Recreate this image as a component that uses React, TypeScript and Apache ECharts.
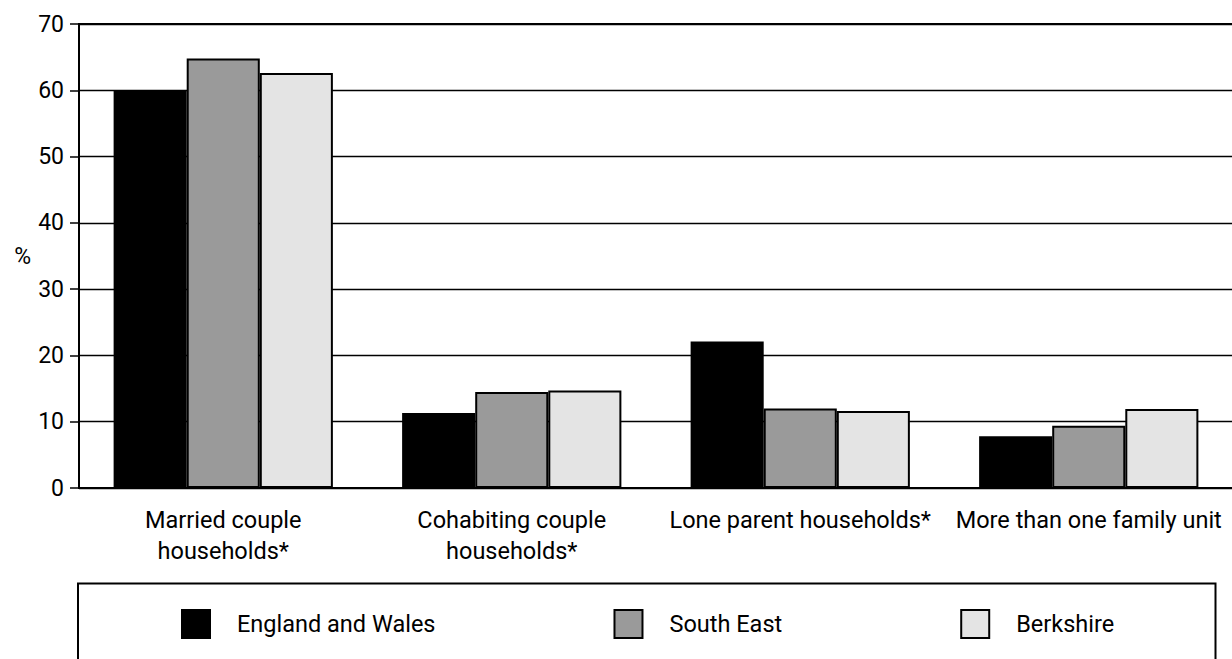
import React, { useEffect, useRef } from "react";
import * as echarts from "echarts";

const categories = [
  "Married couple\nhouseholds*",
  "Cohabiting couple\nhouseholds*",
  "Lone parent households*",
  "More than one family unit",
];
const englandWales = [60.0, 11.3, 22.1, 7.8];
const southEast = [64.8, 14.5, 12.0, 9.4];
const berkshire = [62.6, 14.7, 11.6, 11.9];
const seriesNames = ["England and Wales", "South East", "Berkshire"];
const seriesColors = ["#000000", "#9a9a9a", "#e4e4e4"];
const yTicks = { min: 0, max: 70, interval: 10 };

const FONT = "Roboto, 'Liberation Sans', sans-serif";

export default function App() {
  const ref = useRef<HTMLDivElement>(null);
  useEffect(() => {
    if (!ref.current) return;
    const chart = echarts.init(ref.current, null, { renderer: "svg" });
    const values = [englandWales, southEast, berkshire];
    chart.setOption({
      animation: false,
      backgroundColor: "#ffffff",
      textStyle: { fontFamily: FONT, color: "#000" },
      grid: {
        left: 79,
        top: 24,
        width: 1154,
        height: 464,
        outerBoundsMode: "none",
        containLabel: false,
        show: true,
        borderColor: "#000",
        borderWidth: 2,
        backgroundColor: "transparent",
      },
      legend: {
        left: 181,
        top: 609,
        padding: 0,
        icon: "rect",
        itemWidth: 28,
        itemHeight: 28,
        itemGap: 178,
        itemStyle: { borderColor: "#000", borderWidth: 2 },
        textStyle: {
          fontFamily: FONT,
          fontSize: 23.5,
          color: "#000",
          padding: [0, 0, 0, 22],
        },
        data: seriesNames,
      },
      xAxis: {
        type: "category",
        data: categories,
        axisLine: { lineStyle: { color: "#000", width: 2 } },
        axisTick: { length: 8, lineStyle: { color: "#000", width: 1.5 } },
        axisLabel: {
          interval: 0,
          margin: 16,
          fontFamily: FONT,
          fontSize: 23.5,
          lineHeight: 31,
          color: "#000",
        },
        splitLine: { show: false },
      },
      yAxis: {
        type: "value",
        min: yTicks.min,
        max: yTicks.max,
        interval: yTicks.interval,
        name: "%",
        nameLocation: "middle",
        nameRotate: 0,
        nameGap: 48,
        nameTextStyle: { fontFamily: FONT, fontSize: 23, color: "#000" },
        axisLine: { show: true, lineStyle: { color: "#000", width: 2 } },
        axisTick: { show: true, length: 9, lineStyle: { color: "#000", width: 1.5 } },
        axisLabel: { margin: 15, fontFamily: FONT, fontSize: 23, color: "#000" },
        splitLine: { show: true, lineStyle: { color: "#000", width: 1.3 } },
      },
      graphic: [
        {
          type: "rect",
          shape: { x: 78, y: 583.5, width: 1137.5, height: 140 },
          style: { fill: "none", stroke: "#000", lineWidth: 2 },
          z: 10,
        },
      ],
      series: seriesNames.map((name, i) => ({
        name,
        type: "bar",
        data: values[i],
        barGap: "0%",
        barCategoryGap: "24%",
        itemStyle: {
          color: seriesColors[i],
          borderColor: "#000",
          borderWidth: 2,
        },
      })),
    });
    return () => chart.dispose();
  }, []);
  return (
    <div
      ref={ref}
      style={{ position: "absolute", left: 0, top: 0, width: 1232, height: 659 }}
    />
  );
}
